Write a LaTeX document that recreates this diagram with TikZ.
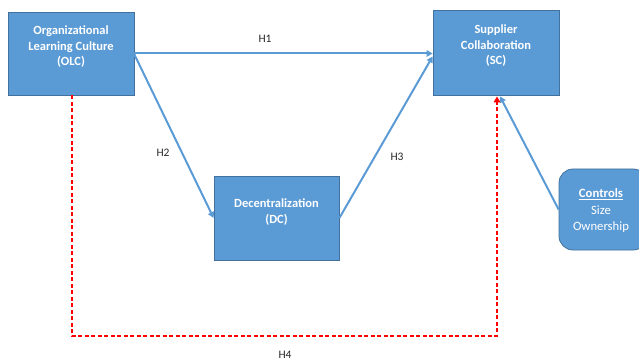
\documentclass[tikz,border=0pt]{standalone}
\usepackage{fontspec}
\setmainfont{Carlito}
\usetikzlibrary{arrows.meta}
\definecolor{boxblue}{HTML}{5B9BD5}
\definecolor{boxedge}{HTML}{41719C}
\definecolor{arrowblue}{HTML}{5B9BD5}
\begin{document}
\begin{tikzpicture}[x=1pt,y=-1pt,
  box/.style={draw=boxedge,line width=0.8pt,fill=boxblue,inner sep=0pt},
  boxtext/.style={text=white,font=\fontsize{12.5}{15.5}\selectfont\bfseries,align=center,inner sep=0pt},
  ctltext/.style={text=white,font=\fontsize{12.7}{16.5}\selectfont,align=center,inner sep=0pt},
  hlabel/.style={font=\fontsize{11.5}{13}\selectfont,text=black!85,inner sep=0pt},
  link/.style={draw=arrowblue,line width=2pt,-{Triangle[length=6pt,width=6.5pt]}},
  redlink/.style={draw=red,line width=2pt,dash pattern=on 4pt off 2.5pt,-{Triangle[length=6pt,width=6.5pt]}}]
\useasboundingbox (0,0) rectangle (639,363);
% boxes
\node[box,minimum width=126pt,minimum height=83pt] (OLC) at (71,53.5) {};
\node[boxtext] (OLCt) at (71,47) {Organizational\\Learning Culture\\(OLC)};
\node[box,minimum width=126pt,minimum height=85pt] (SC) at (496,52.5) {};
\node[boxtext] (SCt) at (496,46) {Supplier\\Collaboration\\(SC)};
\node[box,minimum width=125pt,minimum height=84pt] (DC) at (276.5,218) {};
\node[boxtext] (DCt) at (276.5,212) {Decentralization\\(DC)};
\node[box,rounded corners=14pt,minimum width=88pt,minimum height=81pt] (CTL) at (603,209.5) {};
\node[ctltext] (CTLt) at (601,211) {\textbf{\underline{Controls}}\\Size\\Ownership};
% connectors
\draw[link] (OLC.east) -- (OLC.east -| SC.west);
\draw[link] ([yshift=-1pt]OLC.east) -- (DC.west);
\draw[link] (DC.east) -- ([yshift=-4pt]SC.west);
\draw[link] (CTL.west) -- ([xshift=4pt,yshift=-1pt]SC.south);
\coordinate (rc) at (72,336);
\draw[redlink] ([xshift=1pt]OLC.south) -- ([xshift=1pt]OLC.south |- rc) -| ([xshift=1pt,yshift=-1pt]SC.south);
% labels
\node[hlabel] (H1) at (265,39) {H1};
\node[hlabel] (H2) at (163,153) {H2};
\node[hlabel] (H3) at (397,157) {H3};
\node[hlabel] (H4) at (285,355) {H4};
\end{tikzpicture}
\end{document}
